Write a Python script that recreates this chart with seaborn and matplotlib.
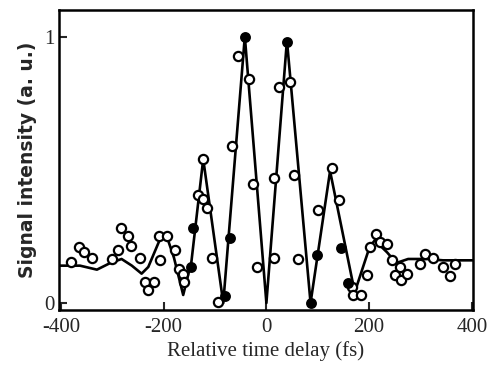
import numpy as np
import pandas as pd
import matplotlib
matplotlib.use('Agg')
import matplotlib.pyplot as plt
import seaborn as sns

# Fitted curve
curve_t = [-404, -381, -363, -330, -304, -282, -262, -243, -230, -207, -194, -180,
           -162, -146, -123, -84, -42, 0, 40, 86, 124, 172, 201, 211, 235, 253,
           276, 312, 344, 402]
curve_s = [0.14, 0.14, 0.14, 0.125, 0.15, 0.165, 0.14, 0.11, 0.135, 0.24, 0.25, 0.17,
           0.03, 0.155, 0.54, 0.0, 1.0, 0.0, 0.985, 0.0, 0.495, 0.04, 0.21, 0.235, 0.19,
           0.15, 0.165, 0.165, 0.16, 0.16]

# Open circles (measured data)
open_t = [-381, -364, -356, -340, -301, -288, -284, -269, -264, -247, -236, -230,
          -219, -207, -209, -194, -178, -170, -162, -160, -133, -123, -116, -124,
          -105, -94, -66, -56, -34, -27, -18, 15, 15, 25, 46, 54, 62, 101, 128, 142,
          166, 168, 185, 195, 201, 213, 221, 234, 244, 250, 260, 263, 273, 299, 308,
          325, 344, 357, 367]
open_s = [0.155, 0.21, 0.19, 0.17, 0.165, 0.20, 0.28, 0.25, 0.215, 0.17, 0.08, 0.05,
          0.08, 0.16, 0.25, 0.25, 0.20, 0.127, 0.11, 0.08, 0.405, 0.39, 0.355, 0.54,
          0.17, 0.005, 0.59, 0.925, 0.84, 0.445, 0.135, 0.17, 0.47, 0.81, 0.83, 0.48,
          0.165, 0.35, 0.505, 0.385, 0.06, 0.03, 0.03, 0.105, 0.21, 0.26, 0.23, 0.22,
          0.16, 0.105, 0.135, 0.085, 0.11, 0.145, 0.185, 0.17, 0.135, 0.10, 0.145]

# Filled circles
filled_t = [-147, -142, -81, -71, -42, 40, 86, 99, 146, 159]
filled_s = [0.135, 0.28, 0.025, 0.245, 1.0, 0.98, 0.0, 0.18, 0.205, 0.074]

sns.set_style('ticks')
plt.rcParams['font.family'] = ['Liberation Serif', 'DejaVu Serif']
plt.rcParams['axes.unicode_minus'] = False

fig = plt.figure(figsize=(4.91, 3.65), dpi=100)
ax = fig.add_axes([0.120, 0.151, 0.843, 0.822])

curve = pd.DataFrame({'t': curve_t, 's': curve_s})
sns.lineplot(data=curve, x='t', y='s', color='black', linewidth=1.9, ax=ax,
             sort=False, zorder=2)

opened = pd.DataFrame({'t': open_t, 's': open_s})
sns.scatterplot(data=opened, x='t', y='s', marker='o', s=44, facecolor='white',
                edgecolor='black', linewidth=1.6, ax=ax, zorder=3)

filled = pd.DataFrame({'t': filled_t, 's': filled_s})
sns.scatterplot(data=filled, x='t', y='s', marker='o', s=44, color='black',
                edgecolor='black', linewidth=1.2, ax=ax, zorder=4)

ax.set_xlim(-404, 402)
ax.set_ylim(-0.026, 1.1)
ax.set_xticks([-400, -200, 0, 200, 400])
ax.set_yticks([0, 1])
ax.tick_params(direction='in', length=6, width=1.5, labelsize=15)
ax.tick_params(axis='x', pad=6)
ax.tick_params(axis='y', pad=3)
for sp in ax.spines.values():
    sp.set_linewidth(1.8)
    sp.set_color('black')

ax.set_xlabel('Relative time delay (fs)', fontsize=15, labelpad=3)
ax.set_ylabel('Signal intensity (a. u.)', fontsize=13.5, labelpad=5,
              family=['DejaVu Sans'], fontweight='bold')

fig.savefig('out.png', dpi=100)
